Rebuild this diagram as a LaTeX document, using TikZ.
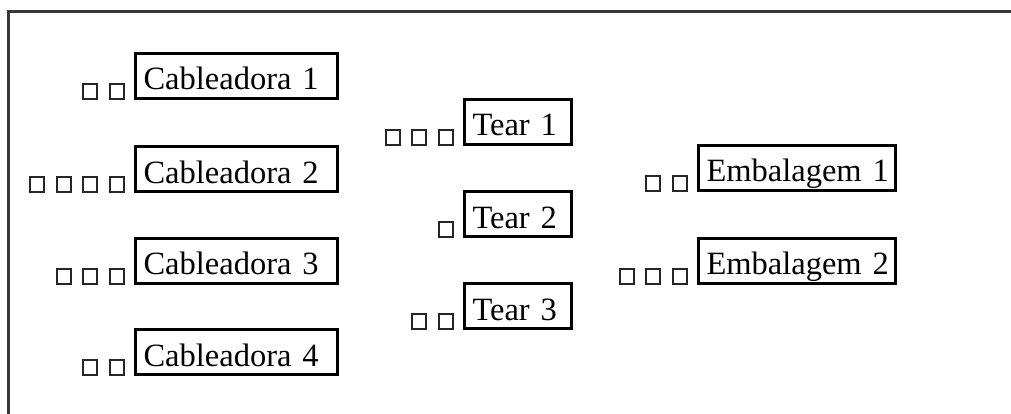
\documentclass[tikz,border=0pt]{standalone}
\usepackage{fontspec}
\setmainfont{Liberation Serif}
\begin{document}
\begin{tikzpicture}[x=1pt,y=-1pt,
  frame/.style={draw=black!78, line width=2.5pt},
  machine/.style={draw=black, line width=3pt, anchor=north west, inner xsep=8pt, inner ysep=0pt,
    text height=36.5pt, text depth=8.5pt, align=left,
    font=\fontsize{32.5}{39}\selectfont},
  cabw/.style={minimum width=202pt, text width=186pt},
  tearw/.style={minimum width=107pt, text width=91pt},
  embw/.style={minimum width=197pt, text width=181pt},
  sq/.style={draw=black!85, line width=1.8pt, minimum width=14pt, minimum height=15pt, inner sep=0pt, anchor=south east}
]
\useasboundingbox (0,0) rectangle (1011,414);
\fill[white] (0,0) rectangle (1011,414);
% frame
\coordinate (ftr) at (1011,11.5);
\coordinate (fbl) at (8.3,414);
\draw[frame] (ftr) -- (7.1,11.5);
\draw[frame] (8.3,10.3) -- (fbl);
% machines
\node[machine,cabw] (c1) at (134,52) {Cableadora~1};
\node[machine,cabw] (c2) at (134,145) {Cableadora~2};
\node[machine,cabw] (c3) at (134,236.5) {Cableadora~3};
\node[machine,cabw] (c4) at (134,328) {Cableadora~4};
\node[machine,tearw] (t1) at (463,98) {Tear~1};
\node[machine,tearw] (t2) at (463,190) {Tear~2};
\node[machine,tearw] (t3) at (463,282) {Tear~3};
\node[machine,embw] (e1) at (697,144) {Embalagem~1};
\node[machine,embw] (e2) at (697,236.5) {Embalagem~2};
% squares
\foreach \m/\n in {c1/2,c2/4,c3/3,c4/2,t1/3,t2/1,t3/2,e1/2,e2/3}{
  \foreach \k in {1,...,\n}{
    \path (\m.south west) ++({-9.5-(\k-1)*26.5},0) node[sq] (\m s\k) {};
  }
}
\end{tikzpicture}
\end{document}
